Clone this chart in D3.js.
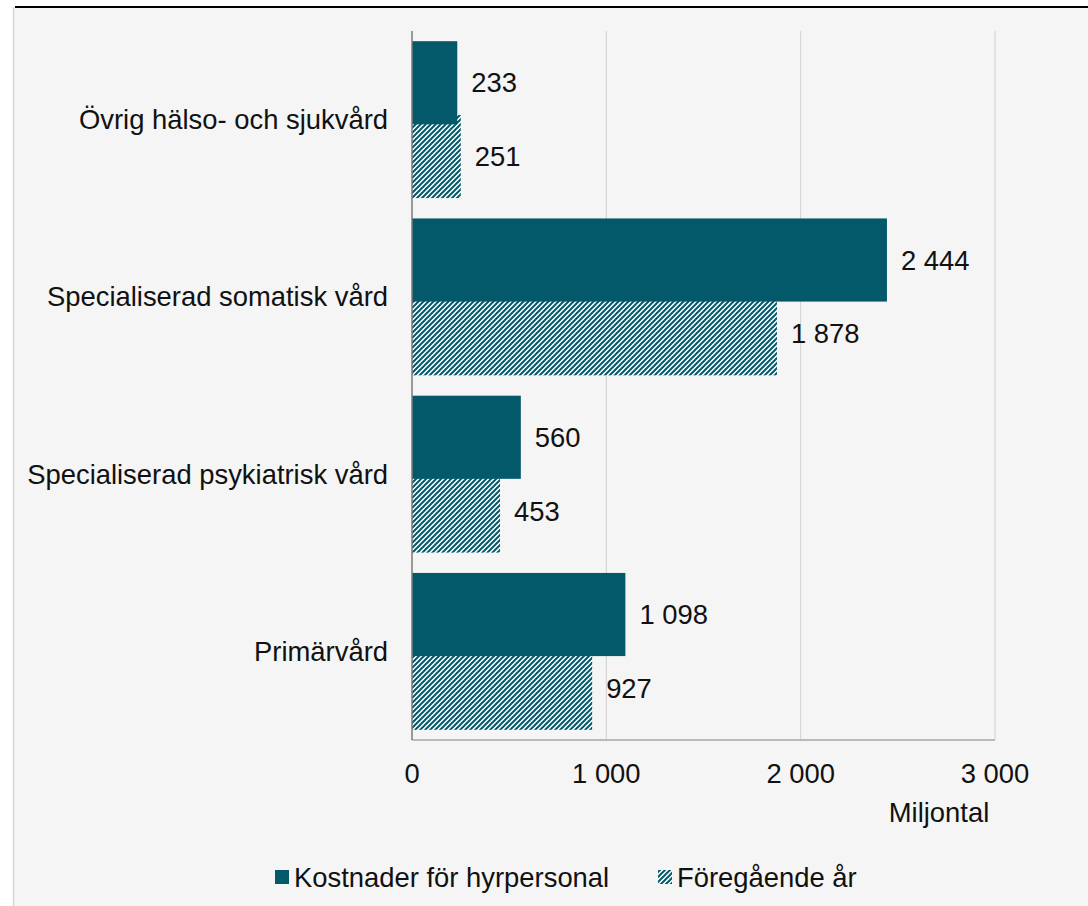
<!DOCTYPE html>
<html><head><meta charset="utf-8">
<script src="https://cdn.jsdelivr.net/npm/d3@7"></script>
<style>html,body{margin:0;padding:0;background:#fff;}svg{display:block;font-family:"Liberation Sans",Arial,sans-serif;}</style>
</head><body>
<script>
const categories = ["Övrig hälso- och sjukvård","Specialiserad somatisk vård","Specialiserad psykiatrisk vård","Primärvård"];
const current = [233, 2444, 560, 1098];
const previous = [251, 1878, 453, 927];
const seriesNames = ["Kostnader för hyrpersonal","Föregående år"];
const xTicks = [0, 1000, 2000, 3000];
const unitLabel = "Miljontal";

const W = 1088, H = 906;
const teal = "#03596a";
const FS = 27.4;
const fmt = v => d3.format(",")(v).replace(/,/g, " ");

const svg = d3.select("body").append("svg").attr("width", W).attr("height", H);
const defs = svg.append("defs");
const P = 5;
const pat = defs.append("pattern").attr("id","hatch").attr("patternUnits","userSpaceOnUse")
  .attr("width",P).attr("height",P);
pat.append("rect").attr("width",P).attr("height",P).attr("fill","#ffffff");
pat.append("path").attr("d",`M-1,1 L1,-1 M0,${P} L${P},0 M${P-1},${P+1} L${P+1},${P-1}`).attr("stroke",teal).attr("stroke-width",2);

svg.append("rect").attr("x",14).attr("y",8).attr("width",W-14).attr("height",H-8).attr("fill","#f5f5f5");
svg.append("line").attr("x1",13.5).attr("x2",13.5).attr("y1",7).attr("y2",H).attr("stroke","#d6d6d6").attr("stroke-width",1.5);
svg.append("line").attr("x1",15).attr("x2",W).attr("y1",7).attr("y2",7).attr("stroke","#000").attr("stroke-width",2);

const x = d3.scaleLinear().domain([0,3000]).range([412,995]);
const y = d3.scaleBand().domain(categories).range([31,740]).paddingInner(0.115).paddingOuter(0.0575);
const barH = y.bandwidth() * 0.53; // bars overlap slightly; solid drawn on top
const barY = j => j === 0 ? 0 : y.bandwidth() - barH;

// gridlines
svg.append("g").selectAll("line").data(xTicks.slice(1)).join("line")
  .attr("x1",d=>x(d)).attr("x2",d=>x(d)).attr("y1",31).attr("y2",740)
  .attr("stroke","#d0d0d0").attr("stroke-width",1);

// bars
const rows = categories.map((c,i)=>({c, vals:[current[i], previous[i]]}));
const g = svg.append("g");
[1,0].forEach(j=>{
  g.append("g").selectAll("rect").data(rows).join("rect")
    .attr("x",x(0)).attr("y",r=>y(r.c)+barY(j)).attr("width",r=>x(r.vals[j])-x(0)).attr("height",barH)
    .attr("fill", j===0 ? teal : "url(#hatch)");
});
[0,1].forEach(j=>{
  g.append("g").selectAll("text").data(rows).join("text")
    .attr("x",r=>x(r.vals[j])+14).attr("y",r=>y(r.c)+barY(j)+barH/2).attr("dy","0.35em")
    .attr("font-size",FS).attr("fill","#111").text(r=>fmt(r.vals[j]));
});

// axes lines
svg.append("line").attr("x1",x(0)).attr("x2",x(3000)).attr("y1",740).attr("y2",740).attr("stroke","#a6a6a6").attr("stroke-width",1.5);
svg.append("line").attr("x1",x(0)).attr("x2",x(0)).attr("y1",31).attr("y2",740).attr("stroke","#7a7a7a").attr("stroke-width",1.5);

// y labels
svg.append("g").selectAll("text").data(categories).join("text")
  .attr("x",388).attr("y",d=>y(d)+y.bandwidth()/2).attr("dy","0.35em").attr("text-anchor","end")
  .attr("font-size",FS).attr("fill","#111").text(d=>d);

// x tick labels
svg.append("g").selectAll("text").data(xTicks).join("text")
  .attr("x",d=>x(d)).attr("y",773).attr("dy","0.35em").attr("text-anchor","middle")
  .attr("font-size",FS).attr("fill","#111").text(d=>fmt(d));
svg.append("text").attr("x",939).attr("y",812).attr("dy","0.35em").attr("text-anchor","middle")
  .attr("font-size",FS).attr("fill","#111").text(unitLabel);

// legend
const leg = [{x:275, fill:teal, name:seriesNames[0]},{x:658, fill:"url(#hatch)", name:seriesNames[1]}];
leg.forEach(l=>{
  svg.append("rect").attr("x",l.x).attr("y",870).attr("width",14).attr("height",14).attr("fill",l.fill);
  svg.append("text").attr("x",l.x+19).attr("y",877).attr("dy","0.35em").attr("font-size",FS).attr("fill","#111").text(l.name);
});
</script>
</body></html>
